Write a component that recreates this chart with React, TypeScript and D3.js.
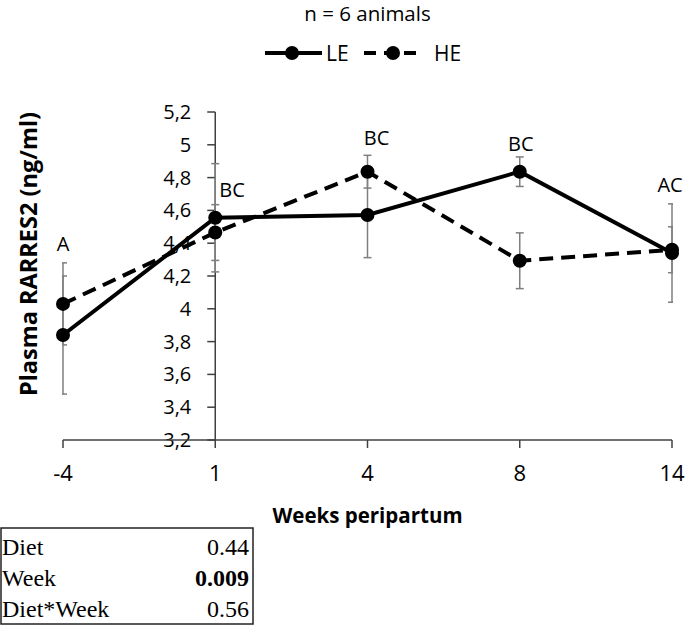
import React from "react";
import * as d3 from "d3";

const weeks = ["-4", "1", "4", "8", "14"];
const leMean = [3.84, 4.555, 4.572, 4.836, 4.34];
const leSE = [0.36, 0.33, 0.26, 0.09, 0.3];
const heMean = [4.03, 4.465, 4.836, 4.293, 4.36];
const heSE = [0.25, 0.17, 0.1, 0.17, 0.14];
const letters = ["A", "BC", "BC", "BC", "AC"];
const letterLevel = [4.35, 4.68, 5.0, 4.965, 4.715];
const yTicks = [3.2, 3.4, 3.6, 3.8, 4, 4.2, 4.4, 4.6, 4.8, 5, 5.2];
const statTerms = ["Diet", "Week", "Diet*Week"];
const statP = ["0.44", "0.009", "0.56"];
const statBold = [false, true, false];

// layout (pixel offsets for letter annotations)
const letterDx = [0, 4, 9, 1, -2];
const letterAnchor = ["middle", "start", "middle", "middle", "middle"];

const W = 685, H = 625;
const L = 63, R = 672, T = 112, B = 440;

const fmt = d3.formatLocale({ decimal: ",", thousands: ".", grouping: [3], currency: ["", ""] }).format(".1~f");

export default function App() {
  const x = d3.scalePoint<string>().domain(weeks).range([L, R]);
  const y = d3.scaleLinear().domain([3.2, 5.2]).range([B, T]);
  const line = d3.line<number>().x((_, i) => x(weeks[i])!).y((d) => y(d));
  const axisX = x("1")!;
  const font = "'Open Sans', sans-serif";
  const series = [
    { name: "LE", mean: leMean, se: leSE, dash: undefined as string | undefined },
    { name: "HE", mean: heMean, se: heSE, dash: "14 8" },
  ];
  return (
    <svg width={W} height={H} style={{ position: "absolute", left: 0, top: 0, background: "#fff" }} fontFamily={font}>
      <defs>
        <clipPath id="plotclip">
          <rect x={L - 1} y={0} width={R - L + 2} height={H} />
        </clipPath>
      </defs>
      {/* title */}
      <text x={(L + R) / 2} y={21} textAnchor="middle" fontSize={20.5} fill="#000">n = 6 animals</text>
      {/* legend */}
      <g>
        <line x1={265} x2={322} y1={53} y2={53} stroke="#000" strokeWidth={4} />
        <circle cx={292} cy={53} r={7} fill="#000" />
        <text x={326} y={53} dy="0.36em" fontSize={21}>LE</text>
        <line x1={364} x2={422} y1={53} y2={53} stroke="#000" strokeWidth={4} strokeDasharray="12 8" />
        <circle cx={393} cy={53} r={7} fill="#000" />
        <text x={434} y={53} dy="0.36em" fontSize={21}>HE</text>
      </g>
      {/* y axis */}
      <line x1={axisX} x2={axisX} y1={y(5.2)} y2={B} stroke="#404040" strokeWidth={1.5} />
      {yTicks.map((t) => (
        <g key={t}>
          <line x1={axisX - 8} x2={axisX} y1={y(t)} y2={y(t)} stroke="#404040" strokeWidth={1.5} />
          <text x={axisX - 24} y={y(t)} dy="0.35em" textAnchor="end" fontSize={20} fill="#000">{fmt(t)}</text>
        </g>
      ))}
      {/* x axis */}
      <line x1={L} x2={R} y1={B} y2={B} stroke="#404040" strokeWidth={1.5} />
      {weeks.map((w) => (
        <g key={w}>
          <line x1={x(w)} x2={x(w)} y1={B} y2={B + 8} stroke="#404040" strokeWidth={1.5} />
          <text x={x(w)} y={481} textAnchor="middle" fontSize={22} fill="#000">{w}</text>
        </g>
      ))}
      <text x={(L + R) / 2} y={523} textAnchor="middle" fontSize={20.5} fontWeight="bold">Weeks peripartum</text>
      <text transform={`translate(37,254) rotate(-90)`} textAnchor="middle" fontSize={23.5} fontWeight="bold">Plasma RARRES2 (ng/ml)</text>
      {/* error bars */}
      <g clipPath="url(#plotclip)" stroke="#7f7f7f" strokeWidth={1.5}>
        {series.map((s) =>
          s.mean.map((m, i) => {
            const cx = x(weeks[i])!;
            const y1 = y(m + s.se[i]);
            const y2 = y(m - s.se[i]);
            return (
              <g key={s.name + i}>
                <line x1={cx} x2={cx} y1={y1} y2={y2} />
                <line x1={cx - 4} x2={cx + 4} y1={y1} y2={y1} />
                <line x1={cx - 4} x2={cx + 4} y1={y2} y2={y2} />
              </g>
            );
          })
        )}
      </g>
      {/* lines */}
      {series.map((s) => (
        <path key={s.name} d={line(s.mean)!} fill="none" stroke="#000" strokeWidth={4} strokeDasharray={s.dash} />
      ))}
      {series.map((s) =>
        s.mean.map((m, i) => <circle key={s.name + "c" + i} cx={x(weeks[i])} cy={y(m)} r={7} fill="#000" />)
      )}
      {/* letters */}
      {letters.map((l, i) => (
        <text key={"l" + i} x={x(weeks[i])! + letterDx[i]} y={y(letterLevel[i])} textAnchor={letterAnchor[i] as any} fontSize={20}>{l}</text>
      ))}
      {/* stats table */}
      <g fontFamily="'Liberation Serif', 'Times New Roman', serif" fontSize={24}>
        <rect x={1} y={528} width={252} height={96} fill="none" stroke="#222" strokeWidth={1.5} />
        {statTerms.map((t, i) => (
          <g key={t}>
            <text x={2} y={555 + i * 31}>{t}</text>
            <text x={249} y={555 + i * 31} textAnchor="end" fontWeight={statBold[i] ? "bold" : "normal"}>{statP[i]}</text>
          </g>
        ))}
      </g>
    </svg>
  );
}
